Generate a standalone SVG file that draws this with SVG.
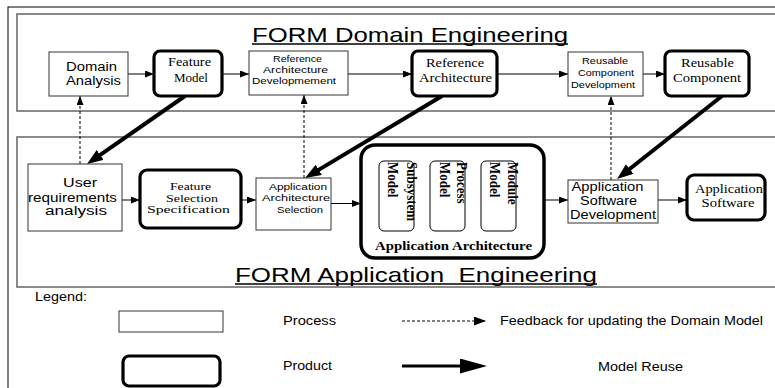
<svg xmlns="http://www.w3.org/2000/svg" width="775" height="388" viewBox="0 0 775 388">
<style>
.frame{fill:none;stroke:#6e6e6e;stroke-width:1.6}
.proc{fill:#fff;stroke:#333;stroke-width:1}
.prod{fill:#fff;stroke:#000;stroke-width:3.2}
.inner{fill:#fff;stroke:#000;stroke-width:1}
.sans{font-family:"Liberation Sans",Arial,sans-serif;fill:#000}
.serif{font-family:"Liberation Serif","Times New Roman",serif;fill:#000}
.s12{font-size:12px}
.s11{font-size:11px}
.s9{font-size:9px}
.bold{font-weight:bold}
.thin{stroke:#000;stroke-width:1;fill:none}
.dash{stroke:#000;stroke-width:1;stroke-dasharray:3,2;fill:none}
.thick{stroke:#000;stroke-width:4;fill:none}
.uline{stroke:#000;stroke-width:1.5}
</style>
<defs>
<marker id="ah" markerUnits="userSpaceOnUse" markerWidth="10" markerHeight="8" refX="9" refY="3.5" orient="auto"><path d="M0,0 L9,3.5 L0,7 z" fill="#000"/></marker>
<marker id="ahd" markerUnits="userSpaceOnUse" markerWidth="13" markerHeight="10" refX="12" refY="4.5" orient="auto"><path d="M0,0 L12,4.5 L0,9 z" fill="#000"/></marker>
<marker id="ahb" markerUnits="userSpaceOnUse" markerWidth="17" markerHeight="13" refX="6" refY="6" orient="auto"><path d="M0,0 L16,6 L0,12 z" fill="#000"/></marker>
<marker id="ahl" markerUnits="userSpaceOnUse" markerWidth="28" markerHeight="16" refX="10" refY="7.5" orient="auto"><path d="M0,0 L27,7.5 L0,15 z" fill="#000"/></marker>
</defs>
<rect width="775" height="388" fill="#fff"/>
<rect x="8" y="7" width="800" height="400" fill="none" stroke="#000" stroke-width="1"/>
<g id="domain-frame">
<rect class="frame" x="17" y="14" width="780" height="97"/>
<text class="sans" x="252" y="42" font-size="21" textLength="316" lengthAdjust="spacingAndGlyphs">FORM Domain Engineering</text>
<line class="uline" x1="252" y1="44" x2="568" y2="44"/>
</g>
<g id="application-frame">
<rect class="frame" x="17" y="137" width="780" height="150"/>
<text class="sans" x="235" y="281.5" font-size="21" textLength="362" lengthAdjust="spacingAndGlyphs" xml:space="preserve">FORM Application  Engineering</text>
<line class="uline" x1="235" y1="284" x2="597" y2="284"/>
</g>
<g id="connectors">
<line class="thin" x1="128" y1="74" x2="154" y2="74" marker-end="url(#ah)"/>
<line class="thin" x1="222" y1="74" x2="249" y2="74" marker-end="url(#ah)"/>
<line class="thin" x1="348" y1="74" x2="412" y2="74" marker-end="url(#ah)"/>
<line class="thin" x1="497" y1="74" x2="568" y2="74" marker-end="url(#ah)"/>
<line class="thin" x1="643" y1="74" x2="665" y2="74" marker-end="url(#ah)"/>
<line class="thin" x1="122" y1="200" x2="140" y2="200" marker-end="url(#ah)"/>
<line class="thin" x1="241" y1="200" x2="256" y2="200" marker-end="url(#ah)"/>
<line class="thin" x1="331" y1="203.5" x2="361" y2="203.5" marker-end="url(#ah)"/>
<line class="thin" x1="544" y1="200" x2="568" y2="200" marker-end="url(#ah)"/>
<line class="thin" x1="658" y1="200" x2="687" y2="200" marker-end="url(#ah)"/>
<line class="dash" x1="80" y1="164" x2="80" y2="96" marker-end="url(#ah)"/>
<line class="dash" x1="304" y1="178" x2="304" y2="95" marker-end="url(#ah)"/>
<line class="dash" x1="611" y1="180" x2="611" y2="96" marker-end="url(#ah)"/>
<line class="thick" x1="185" y1="96" x2="95.2" y2="158.3" marker-end="url(#ahb)"/>
<line class="thick" x1="442" y1="96" x2="313.6" y2="172.9" marker-end="url(#ahb)"/>
<line class="thick" x1="722" y1="96" x2="624.9" y2="172.8" marker-end="url(#ahb)"/>
</g>
<g id="domain-analysis">
<rect class="proc" x="49" y="52" width="79" height="44"/>
<text class="sans s12" x="91.5" y="70.5" text-anchor="middle" textLength="51" lengthAdjust="spacingAndGlyphs">Domain</text>
<text class="sans s12" x="93.5" y="85" text-anchor="middle" textLength="55" lengthAdjust="spacingAndGlyphs">Analysis</text>
</g>
<g id="feature-model">
<rect class="prod" x="154" y="51" width="68" height="45" rx="6"/>
<text class="serif s12" x="189.5" y="66" text-anchor="middle" textLength="43" lengthAdjust="spacingAndGlyphs">Feature</text>
<text class="serif s12" x="191" y="81.5" text-anchor="middle" textLength="34" lengthAdjust="spacingAndGlyphs">Model</text>
</g>
<g id="reference-architecture-development">
<rect class="proc" x="249" y="51" width="99" height="44"/>
<text class="sans s9" x="297.5" y="62" text-anchor="middle" textLength="49" lengthAdjust="spacingAndGlyphs">Reference</text>
<text class="sans s9" x="295.5" y="73.3" text-anchor="middle" textLength="65" lengthAdjust="spacingAndGlyphs">Architecture</text>
<text class="sans s9" x="294" y="84" text-anchor="middle" textLength="84" lengthAdjust="spacingAndGlyphs">Developmement</text>
</g>
<g id="reference-architecture">
<rect class="prod" x="412" y="51" width="85" height="45" rx="6"/>
<text class="serif s12" x="455" y="66.5" text-anchor="middle" textLength="58" lengthAdjust="spacingAndGlyphs">Reference</text>
<text class="serif s12" x="455.5" y="81.5" text-anchor="middle" textLength="73" lengthAdjust="spacingAndGlyphs">Architecture</text>
</g>
<g id="reusable-component-development">
<rect class="proc" x="568" y="52" width="75" height="44"/>
<text class="sans s9" x="605" y="64" text-anchor="middle" textLength="46" lengthAdjust="spacingAndGlyphs">Reusable</text>
<text class="sans s9" x="606" y="76" text-anchor="middle" textLength="56" lengthAdjust="spacingAndGlyphs">Component</text>
<text class="sans s9" x="603" y="88" text-anchor="middle" textLength="64" lengthAdjust="spacingAndGlyphs">Development</text>
</g>
<g id="reusable-component">
<rect class="prod" x="665" y="51" width="84" height="45" rx="6"/>
<text class="serif s12" x="707.5" y="66.5" text-anchor="middle" textLength="53" lengthAdjust="spacingAndGlyphs">Reusable</text>
<text class="serif s12" x="707" y="81.5" text-anchor="middle" textLength="68" lengthAdjust="spacingAndGlyphs">Component</text>
</g>
<g id="user-requirements-analysis">
<rect class="proc" x="28" y="164" width="94" height="67"/>
<text class="sans s12" x="80" y="187" text-anchor="middle" textLength="34" lengthAdjust="spacingAndGlyphs">User</text>
<text class="sans s12" x="72.5" y="201.5" text-anchor="middle" textLength="89" lengthAdjust="spacingAndGlyphs">requirements</text>
<text class="sans s12" x="76" y="215" text-anchor="middle" textLength="62" lengthAdjust="spacingAndGlyphs">analysis</text>
</g>
<g id="feature-selection-specification">
<rect class="prod" x="140" y="170" width="101" height="58" rx="7"/>
<text class="serif s11" x="190.5" y="190" text-anchor="middle" textLength="41" lengthAdjust="spacingAndGlyphs">Feature</text>
<text class="serif s11" x="192" y="201.7" text-anchor="middle" textLength="52" lengthAdjust="spacingAndGlyphs">Selection</text>
<text class="serif s11" x="188.5" y="213.3" text-anchor="middle" textLength="83" lengthAdjust="spacingAndGlyphs">Specification</text>
</g>
<g id="application-architecture-selection">
<rect class="proc" x="256" y="178" width="75" height="52"/>
<text class="sans s9" x="298" y="190" text-anchor="middle" textLength="58" lengthAdjust="spacingAndGlyphs">Application</text>
<text class="sans s9" x="296" y="200.7" text-anchor="middle" textLength="68" lengthAdjust="spacingAndGlyphs">Architecture</text>
<text class="sans s9" x="300" y="212.5" text-anchor="middle" textLength="46" lengthAdjust="spacingAndGlyphs">Selection</text>
</g>
<g id="application-architecture">
<rect x="361" y="145" width="183" height="113" rx="14" fill="#fff" stroke="#000" stroke-width="3.5"/>
<rect class="inner" x="379" y="161" width="35" height="70" rx="5"/>
<rect class="inner" x="430" y="161" width="35" height="70" rx="5"/>
<rect class="inner" x="481" y="161" width="35" height="70" rx="5"/>
<text class="serif bold" font-size="13" transform="translate(407,162) scale(1.1,1) rotate(90)">Subsystem</text>
<text class="serif bold" font-size="13" transform="translate(388,162) scale(1.1,1) rotate(90)">Model</text>
<text class="serif bold" font-size="13" transform="translate(457,162) scale(1.1,1) rotate(90)">Process</text>
<text class="serif bold" font-size="13" transform="translate(439.5,162) scale(1.1,1) rotate(90)">Model</text>
<text class="serif bold" font-size="13" transform="translate(508,162) scale(1.1,1) rotate(90)">Module</text>
<text class="serif bold" font-size="13" transform="translate(490,162) scale(1.1,1) rotate(90)">Model</text>
<text class="serif bold s12" x="453.5" y="250" text-anchor="middle" textLength="157" lengthAdjust="spacingAndGlyphs">Application Architecture</text>
</g>
<g id="application-software-development">
<rect class="proc" x="568" y="180" width="90" height="43"/>
<text class="sans s12" x="607.5" y="190.5" text-anchor="middle" textLength="72" lengthAdjust="spacingAndGlyphs">Application</text>
<text class="sans s12" x="608.5" y="205" text-anchor="middle" textLength="57" lengthAdjust="spacingAndGlyphs">Software</text>
<text class="sans s12" x="613" y="219" text-anchor="middle" textLength="86" lengthAdjust="spacingAndGlyphs">Development</text>
</g>
<g id="application-software">
<rect class="prod" x="687" y="175" width="78" height="45" rx="7"/>
<text class="serif s12" x="729" y="193" text-anchor="middle" textLength="68" lengthAdjust="spacingAndGlyphs">Application</text>
<text class="serif s12" x="728" y="206.5" text-anchor="middle" textLength="53" lengthAdjust="spacingAndGlyphs">Software</text>
</g>
<g id="legend">
<text class="sans s12" x="35" y="300.5" textLength="52" lengthAdjust="spacingAndGlyphs">Legend:</text>
<rect class="proc" x="119" y="311" width="104" height="21"/>
<text class="sans s12" x="283" y="325" textLength="53" lengthAdjust="spacingAndGlyphs">Process</text>
<rect class="prod" x="123" y="356" width="97" height="30" rx="6" stroke-width="3.5"/>
<text class="sans s12" x="283" y="370" textLength="49" lengthAdjust="spacingAndGlyphs">Product</text>
<line class="dash" x1="402" y1="321" x2="486" y2="321" marker-end="url(#ahd)"/>
<text class="sans s12" x="500" y="324.5" textLength="263" lengthAdjust="spacingAndGlyphs">Feedback for updating the Domain Model</text>
<line x1="402" y1="366" x2="470" y2="366" stroke="#000" stroke-width="3" marker-end="url(#ahl)"/>
<text class="sans s12" x="598" y="370.5" textLength="85" lengthAdjust="spacingAndGlyphs">Model Reuse</text>
</g>
</svg>
